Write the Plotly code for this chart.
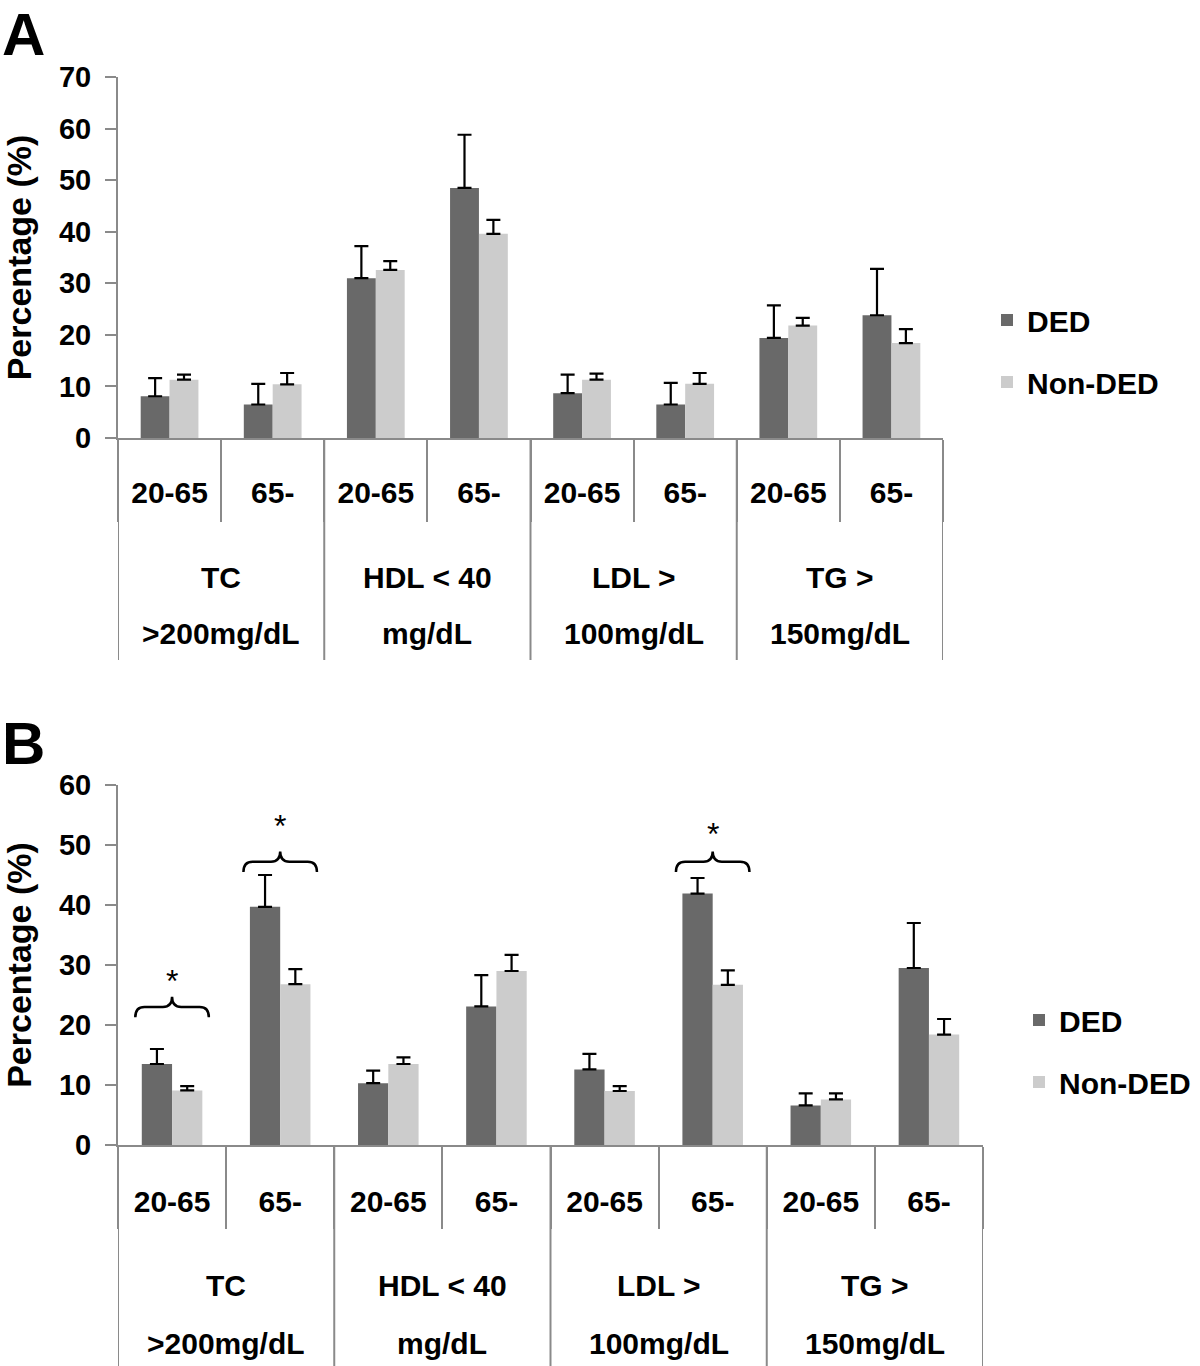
import plotly.graph_objects as go

# ---------------- data ----------------
group_keys = ["TC", "HDL", "LDL", "TG"]
group_line1 = ["TC", "HDL &lt; 40", "LDL &gt;", "TG &gt;"]
group_line2 = ["&gt;200mg/dL", "mg/dL", "100mg/dL", "150mg/dL"]
age_groups = ["20-65", "65-"]
series_names = ["DED", "Non-DED"]

# Panel A (percentage, %)
a_ded = [8.1, 6.5, 31.0, 48.5, 8.7, 6.5, 19.4, 23.8]
a_ded_err = [3.5, 4.0, 6.2, 10.3, 3.6, 4.2, 6.3, 9.0]
a_non = [11.3, 10.4, 32.6, 39.6, 11.3, 10.5, 21.8, 18.4]
a_non_err = [1.0, 2.2, 1.7, 2.7, 1.2, 2.1, 1.5, 2.7]

# Panel B (percentage, %)
b_ded = [13.5, 39.7, 10.3, 23.1, 12.6, 41.9, 6.6, 29.5]
b_ded_err = [2.5, 5.3, 2.1, 5.2, 2.6, 2.6, 2.0, 7.5]
b_non = [9.1, 26.8, 13.5, 29.0, 9.0, 26.7, 7.6, 18.4]
b_non_err = [0.7, 2.5, 1.1, 2.7, 0.8, 2.4, 1.0, 2.6]

# significance marks in panel B (category, brace base level, asterisk level)
sig_categories = ["TC 20-65", "TC 65-", "LDL 65-"]
sig_levels = [21.3, 45.5, 45.5]
sig_star_levels = [27.3, 53.2, 51.9]

# ---------------- styling ----------------
FONT = "Liberation Sans, Arial, Helvetica, sans-serif"
DARK = "#696969"
LIGHT = "#cccccc"
AXC = "#8a8a8a"
H = 1366
W = 1200

cats = [f"{g} {a}" for g in group_keys for a in age_groups]
tick_text = [a for g in group_keys for a in age_groups]


def py(p):  # pixel row -> paper y
    return 1 - p / H


def px(p):
    return p / W


fig = go.Figure()

panels = [
    dict(xa="x", ya="y", leg="legend", ded=a_ded, dede=a_ded_err, non=a_non, none=a_non_err),
    dict(xa="x2", ya="y2", leg="legend2", ded=b_ded, dede=b_ded_err, non=b_non, none=b_non_err),
]
for k, p in enumerate(panels):
    for name, vals, errs, col in [(series_names[0], p["ded"], p["dede"], DARK),
                                   (series_names[1], p["non"], p["none"], LIGHT)]:
        fig.add_trace(go.Bar(
            x=cats, y=vals, name=name, marker=dict(color=col, line=dict(width=0)),
            error_y=dict(type="data", array=errs, arrayminus=[0] * len(errs), symmetric=False,
                         color="black", thickness=2.2, width=7),
            xaxis=p["xa"], yaxis=p["ya"], legend=p["leg"], legendgroup=f"{k}{name}",
        ))

tickfont = dict(family=FONT, size=30, color="black", weight="bold")
ytickfont = dict(family=FONT, size=29, color="black", weight="bold")

common_x = dict(type="category", categoryorder="array", categoryarray=cats,
                tickmode="array", tickvals=cats, ticktext=tick_text,
                tickson="boundaries", ticks="outside", ticklen=82, tickwidth=2, tickcolor=AXC,
                showline=True, linecolor=AXC, linewidth=2, showgrid=False, zeroline=False,
                tickfont=tickfont, automargin=False, fixedrange=True,
                range=[-0.5, len(cats) - 0.5])
common_y = dict(ticks="outside", ticklen=11, tickwidth=2, tickcolor=AXC, showline=True,
                linecolor=AXC, linewidth=2, showgrid=False, zeroline=False, dtick=10,
                tickfont=ytickfont, ticklabelstandoff=8, automargin=False, fixedrange=True,
                title=dict(text="Percentage (%)", font=dict(family=FONT, size=34, color="black", weight="bold"),
                           standoff=24))

fig.update_layout(
    width=W, height=H, margin=dict(l=0, r=0, t=0, b=0),
    paper_bgcolor="white", plot_bgcolor="white",
    font=dict(family=FONT, color="black"),
    barmode="group", bargap=0.44, bargroupgap=0,
    xaxis=dict(domain=[px(118), px(943)], anchor="y", ticklabelstandoff=27, **common_x),
    yaxis=dict(domain=[py(438), py(77)], anchor="x", range=[0, 70], **common_y),
    xaxis2=dict(domain=[px(118), px(983)], anchor="y2", ticklabelstandoff=29, **common_x),
    yaxis2=dict(domain=[py(1145), py(785)], anchor="x2", range=[0, 60], **common_y),
    legend=dict(x=px(987), xanchor="left", y=py(294), yanchor="top", tracegroupgap=20,
                font=dict(family=FONT, size=30, color="black", weight="bold"), bgcolor="rgba(0,0,0,0)"),
    legend2=dict(x=px(1019), xanchor="left", y=py(994), yanchor="top", tracegroupgap=20,
                 font=dict(family=FONT, size=30, color="black", weight="bold"), bgcolor="rgba(0,0,0,0)"),
    showlegend=True,
)

shapes = []
annotations = []
label_font = dict(family=FONT, size=30, color="black", weight="bold")

# group dividers and group labels for both panels
for xa, axis_row, bottom_row, row1, row2 in [("x", 438, 660, 577, 633), ("x2", 1145, 1366, 1285, 1343)]:
    for b in range(0, len(cats) + 1, 2):
        shapes.append(dict(type="line", xref=xa, yref="paper", x0=b - 0.5, x1=b - 0.5,
                           y0=py(axis_row), y1=py(bottom_row), line=dict(color=AXC, width=2)))
    for i in range(len(group_keys)):
        xc = 2 * i + 0.5
        annotations.append(dict(xref=xa, yref="paper", x=xc, y=py(row1), text=group_line1[i],
                                showarrow=False, xanchor="center", yanchor="middle", font=label_font))
        annotations.append(dict(xref=xa, yref="paper", x=xc, y=py(row2), text=group_line2[i],
                                showarrow=False, xanchor="center", yanchor="middle", font=label_font))

# panel letters
annotations.append(dict(xref="paper", yref="paper", x=0, y=py(34), text="A", showarrow=False,
                        xanchor="left", yanchor="middle", height=50,
                        font=dict(family=FONT, size=60, color="black", weight="bold")))
annotations.append(dict(xref="paper", yref="paper", x=0, y=py(743), text="B", showarrow=False,
                        xanchor="left", yanchor="middle", height=50,
                        font=dict(family=FONT, size=60, color="black", weight="bold")))

# braces + asterisks in panel B
hw, h1, h2 = 0.34, 1.7, 1.7
for c, lvl, star in zip(sig_categories, sig_levels, sig_star_levels):
    xc = cats.index(c)
    xl, xr = xc - hw, xc + hw
    ym, yp = lvl + h1, lvl + h1 + h2
    path = (f"M {xl},{lvl} Q {xl},{ym} {xl + 0.25 * hw},{ym} L {xc - 0.25 * hw},{ym} "
            f"Q {xc},{ym} {xc},{yp} Q {xc},{ym} {xc + 0.25 * hw},{ym} "
            f"L {xr - 0.25 * hw},{ym} Q {xr},{ym} {xr},{lvl}")
    shapes.append(dict(type="path", xref="x2", yref="y2", path=path, line=dict(color="black", width=2.5)))
    annotations.append(dict(xref="x2", yref="y2", x=xc, y=star, text="*", showarrow=False,
                            xanchor="center", yanchor="middle",
                            font=dict(family=FONT, size=32, color="black")))

fig.update_layout(shapes=shapes, annotations=annotations)

fig.write_html("out.html", config={"displayModeBar": False},
               post_script="document.body.style.margin='0';")
